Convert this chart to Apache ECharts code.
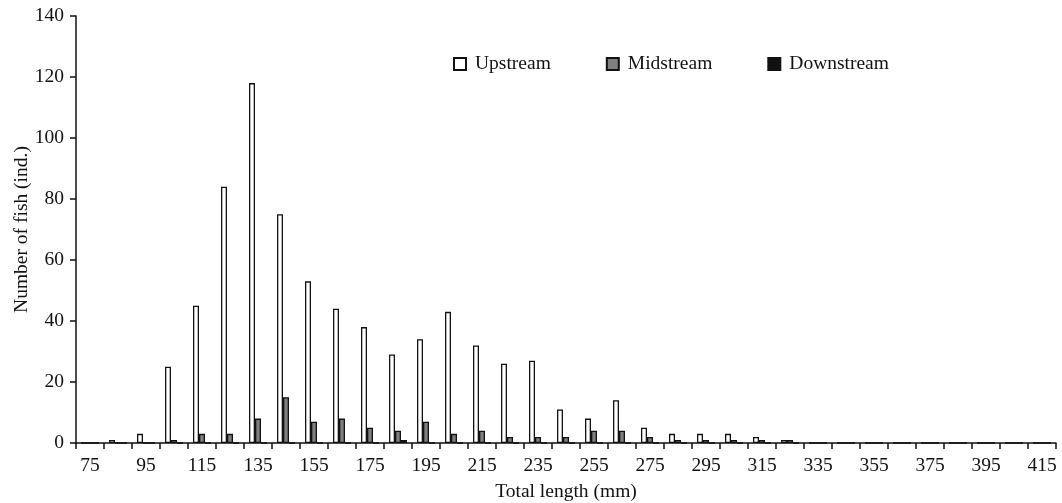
<!DOCTYPE html>
<html>
<head>
<meta charset="utf-8">
<script src="https://cdn.jsdelivr.net/npm/echarts@6/dist/echarts.min.js"></script>
<style>
html,body{margin:0;padding:0;background:#fff;}
#chart{width:1062px;height:503px;}
</style>
</head>
<body>
<div id="chart"></div>
<script>
var categories = ['75','85','95','105','115','125','135','145','155','165','175','185','195','205','215','225','235','245','255','265','275','285','295','305','315','325','335','345','355','365','375','385','395','405','415'];
var upstream   = [0,1,3,25,45,84,118,75,53,44,38,29,34,43,32,26,27,11,8,14,5,3,3,3,2,1,0,0,0,0,0,0,0,0,0];
var midstream  = [0,0,0,1,3,3,8,15,7,8,5,4,7,3,4,2,2,2,4,4,2,1,1,1,1,1,0,0,0,0,0,0,0,0,0];
var downstream = [0,0,0,0,0,0,0,0,0,0,0,1,0,0,0,0,0,0,0,0,0,0,0,0,0,0,0,0,0,0,0,0,0,0,0];
var yTicks = {min: 0, max: 140, interval: 20};

var font = 'Liberation Serif';
var fs = 19.5;
var chart = echarts.init(document.getElementById('chart'), null, {renderer: 'canvas'});
function barSeries(name, data, color) {
  return {
    name: name, type: 'bar', data: data,
    barWidth: 6, barGap: '0%',
    itemStyle: {color: color, borderColor: '#111', borderWidth: 1.3},
    emphasis: {disabled: true}
  };
}
chart.setOption({
  animation: false,
  textStyle: {fontFamily: font},
  grid: {left: 76, right: 6, top: 16, bottom: 60, containLabel: false, outerBoundsMode: 'none'},
  legend: {
    left: 448, top: 49, itemWidth: 12, itemHeight: 12, itemGap: 55,
    textStyle: {fontFamily: font, fontSize: fs, color: '#111', padding: [0, 0, 0, 4]},
    data: [
      {name: 'Upstream', icon: 'rect'},
      {name: 'Midstream', icon: 'rect'},
      {name: 'Downstream', icon: 'rect'}
    ]
  },
  xAxis: {
    type: 'category', data: categories,
    name: 'Total length (mm)', nameLocation: 'middle', nameGap: 39, nameMoveOverlap: false,
    nameTextStyle: {fontFamily: font, fontSize: fs, color: '#111'},
    axisLine: {lineStyle: {color: '#111', width: 1.5}},
    axisTick: {show: true, interval: 0, length: 6, lineStyle: {color: '#111', width: 1.5}},
    axisLabel: {interval: 1, margin: 13, fontFamily: font, fontSize: fs, color: '#111'}
  },
  yAxis: {
    type: 'value', min: yTicks.min, max: yTicks.max, interval: yTicks.interval,
    name: 'Number of fish (ind.)', nameLocation: 'middle', nameGap: 44, nameRotate: 90, nameMoveOverlap: false,
    nameTextStyle: {fontFamily: font, fontSize: fs, color: '#111'},
    axisLine: {show: true, lineStyle: {color: '#111', width: 1.5}},
    axisTick: {show: true, length: 6, lineStyle: {color: '#111', width: 1.5}},
    axisLabel: {margin: 12, fontFamily: font, fontSize: fs, color: '#111'},
    splitLine: {show: false}
  },
  series: [
    barSeries('Upstream', upstream, '#ffffff'),
    barSeries('Midstream', midstream, '#7f7f7f'),
    barSeries('Downstream', downstream, '#111111')
  ]
});
</script>
</body>
</html>
